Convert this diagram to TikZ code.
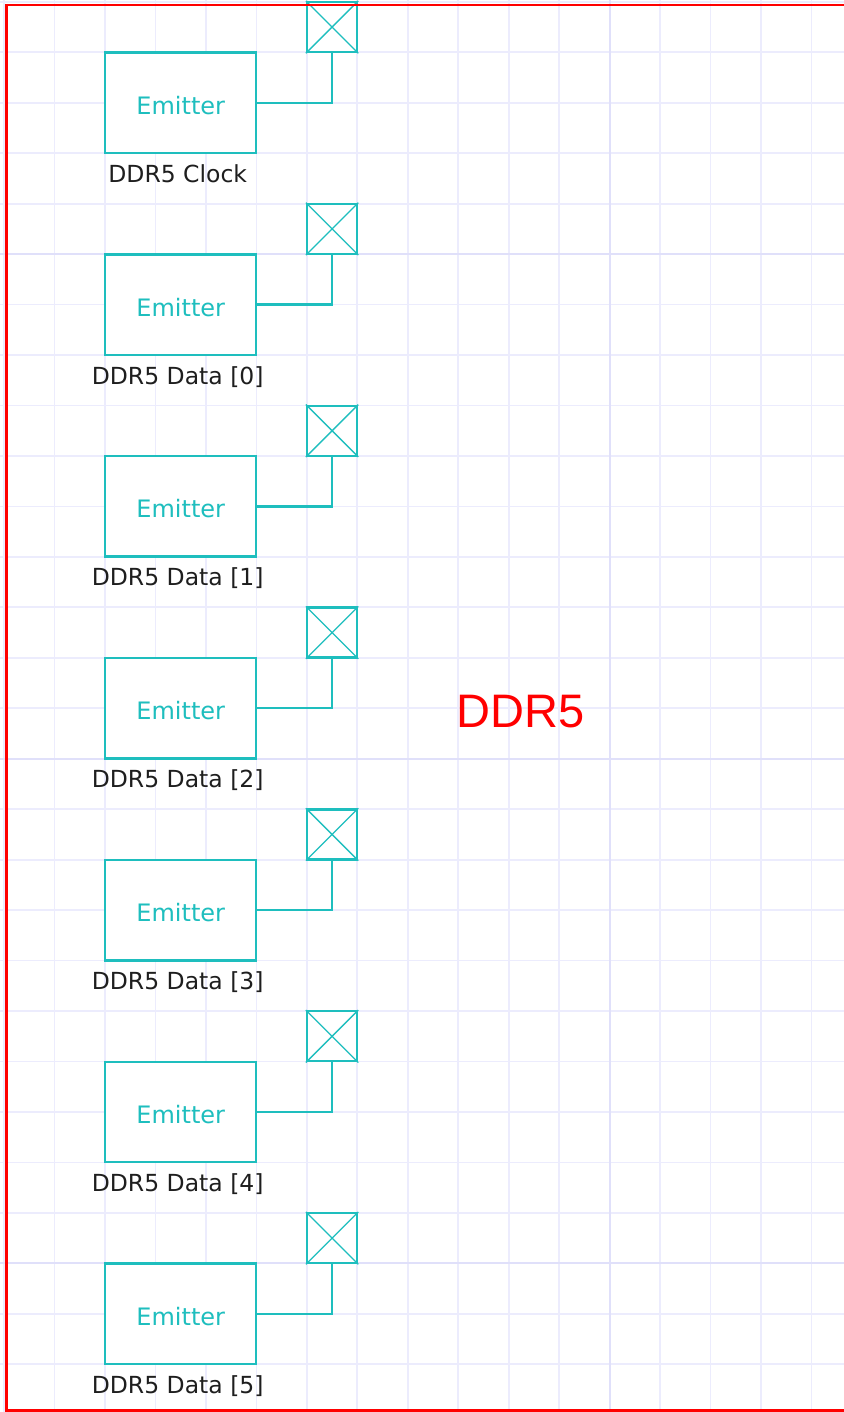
\documentclass[tikz,border=0pt]{standalone}
\usepackage{fontspec}
\setmainfont{DejaVu Sans}
\newfontfamily\arialfont{Liberation Sans}
\usetikzlibrary{positioning}

\definecolor{emt}{RGB}{30,190,190}
\definecolor{gridc}{RGB}{236,236,253}
\definecolor{gridm}{RGB}{224,224,250}
\definecolor{lblc}{RGB}{30,30,30}

\tikzset{
  gline/.style={draw=gridc, line width=1.8pt},
  gmajor/.style={draw=gridm, line width=1.8pt},
  emit/.style={draw=emt, line width=2.4pt, fill=white, inner sep=0pt,
    minimum width=151pt, minimum height=100.5pt, text=emt,
    text height=23pt, text depth=0pt, font=\fontsize{24}{24}\selectfont},
  pad/.style={draw=emt, line width=2.4pt, fill=white, inner sep=0pt,
    minimum size=50pt},
  wire/.style={draw=emt, line width=2.4pt},
  lbl/.style={anchor=base, text=lblc, inner sep=0pt,
    font=\fontsize{23.5}{23.5}\selectfont},
}

% one emitter with its pad and name
\newcommand{\emitrow}[2]{
  \node[emit] (em#1) at (3.5, 2+4*#1) {Emitter};
  \node[pad] (pad#1) at (6.5, 0.5+4*#1) {};
  \draw[emt, line width=1.3pt] (pad#1.north west)--(pad#1.south east)
    (pad#1.north east)--(pad#1.south west);
  \draw[wire] (em#1.east) -| (pad#1.south);
  \node[lbl] (lb#1) at ([xshift=-3pt, yshift=-28pt]em#1.south) {#2};
}

\begin{document}
\begin{tikzpicture}[x=50.46pt, y=-50.46pt]

  \useasboundingbox (-4.1pt,1.84pt) rectangle (838.9pt,-1410.16pt);

  % Grid
  % ====
  \foreach \i in {0, ..., 16}
  \draw[gline] (\i,-0.2) -- (\i,28.2);
  \foreach \j in {0, ..., 27}
  \draw[gline] (-0.2,\j) -- (17,\j);

  \foreach \j in {5, 15, 25}
  \draw[gmajor] (-0.2,\j) -- (17,\j);
  \draw[gmajor] (12,-0.2) -- (12,28.2);

  % Emitters
  % ========
  \emitrow{0}{DDR5 Clock}
  \emitrow{1}{DDR5 Data [0]}
  \emitrow{2}{DDR5 Data [1]}
  \emitrow{3}{DDR5 Data [2]}
  \emitrow{4}{DDR5 Data [3]}
  \emitrow{5}{DDR5 Data [4]}
  \emitrow{6}{DDR5 Data [5]}

  % Block
  % =====
  \node[text=red, inner sep=0pt, font=\arialfont\fontsize{47}{47}\selectfont]
    (ttl) at (10.24, 14.06) {DDR5};

  \draw[red, line width=2.2pt] (2.4pt,-3.2pt) rectangle (880pt,-1408.7pt);

\end{tikzpicture}
\end{document}
